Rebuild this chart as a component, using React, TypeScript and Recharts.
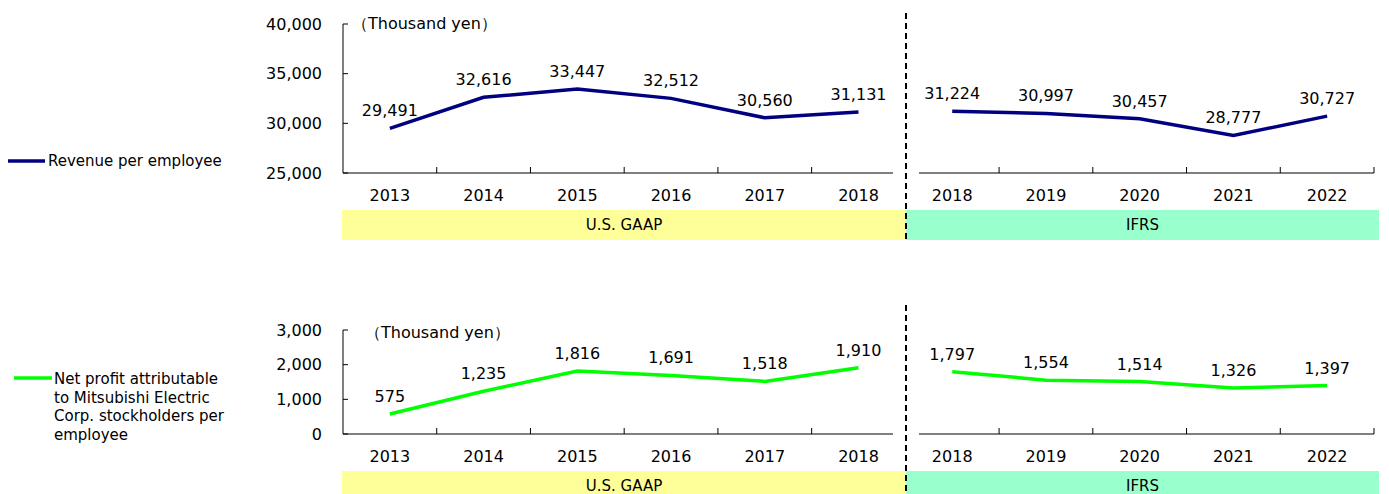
import React from "react";
import { LineChart, Line, XAxis, YAxis, LabelList } from "recharts";

const years = ["2013", "2014", "2015", "2016", "2017", "2018", "2018", "2019", "2020", "2021", "2022"];
const revenueGaap = [29491, 32616, 33447, 32512, 30560, 31131];
const revenueIfrs = [31224, 30997, 30457, 28777, 30727];
const profitGaap = [575, 1235, 1816, 1691, 1518, 1910];
const profitIfrs = [1797, 1554, 1514, 1326, 1397];
const revenueTicks = [25000, 30000, 35000, 40000];
const profitTicks = [0, 1000, 2000, 3000];
const boundaryTicks = [1, 2, 3, 4, 5, 7, 8, 9, 10, 11];
const centerTicks = years.map((_, i) => i + 0.5);

const NAVY = "#000080";
const GREEN = "#00ff00";
const FONT = "'DejaVu Sans', sans-serif";

function buildRows(gaap: number[], ifrs: number[]) {
  return years.map((_, i) => ({
    x: i + 0.5,
    gaap: i < gaap.length ? gaap[i] : null,
    ifrs: i >= gaap.length ? ifrs[i - gaap.length] : null,
  }));
}

const fmt = (v: any) => (v == null ? "" : Number(v).toLocaleString("en-US"));

function Panel({
  gaap,
  ifrs,
  ticks,
  color,
  height,
  top,
  plotH,
}: {
  gaap: number[];
  ifrs: number[];
  ticks: number[];
  color: string;
  height: number;
  top: number;
  plotH: number;
}) {
  const rows = buildRows(gaap, ifrs);
  const bottom = height - top - plotH - 41;
  return (
    <LineChart
      width={1389}
      height={height}
      data={rows}
      margin={{ top, right: 15, left: 263, bottom }}
    >
      <YAxis
        width={80}
        domain={[ticks[0], ticks[ticks.length - 1]]}
        ticks={ticks}
        interval={0}
        tickFormatter={fmt}
        axisLine={{ stroke: "#000" }}
        tickLine={{ stroke: "#000" }}
        tickSize={-5}
        tickMargin={26}
        tick={{ fill: "#000", fontSize: 16 }}
      />
      <XAxis
        xAxisId="b"
        dataKey="x"
        type="number"
        domain={[0, 11]}
        ticks={boundaryTicks}
        interval={0}
        height={1}
        tickFormatter={() => ""}
        axisLine={{ stroke: "#000", strokeDasharray: "550 26 2000" }}
        tickLine={{ stroke: "#000" }}
        tickSize={-6}
      />
      <XAxis
        xAxisId="l"
        dataKey="x"
        type="number"
        domain={[0, 11]}
        ticks={centerTicks}
        interval={0}
        height={40}
        tickFormatter={(v: number) => years[Math.floor(v)]}
        axisLine={false}
        tickLine={false}
        tickSize={0}
        tickMargin={16}
        tick={{ fill: "#000", fontSize: 16 }}
      />
      <Line
        xAxisId="b"
        dataKey="gaap"
        stroke={color}
        strokeWidth={3.5}
        dot={false}
        isAnimationActive={false}
      >
        <LabelList dataKey="gaap" position="top" offset={12} formatter={fmt} fill="#000" fontSize={16} />
      </Line>
      <Line
        xAxisId="b"
        dataKey="ifrs"
        stroke={color}
        strokeWidth={3.5}
        dot={false}
        isAnimationActive={false}
      >
        <LabelList dataKey="ifrs" position="top" offset={12} formatter={fmt} fill="#000" fontSize={16} />
      </Line>
    </LineChart>
  );
}

function Bands({ top, h }: { top: number; h: number }) {
  return (
    <>
      <div
        style={{
          position: "absolute", left: 342, top, width: 564, height: h, background: "#ffff99",
          display: "flex", alignItems: "center", justifyContent: "center", fontSize: 15,
        }}
      >
        U.S. GAAP
      </div>
      <div
        style={{
          position: "absolute", left: 906, top, width: 473, height: h, background: "#99ffcc",
          display: "flex", alignItems: "center", justifyContent: "center", fontSize: 15,
        }}
      >
        IFRS
      </div>
    </>
  );
}

export default function App() {
  return (
    <div
      style={{
        position: "absolute", left: 0, top: 0, width: 1389, height: 494, overflow: "hidden",
        fontFamily: FONT, color: "#000", background: "#fff",
      }}
    >
      <div style={{ position: "absolute", left: 0, top: 0 }}>
        <Panel gaap={revenueGaap} ifrs={revenueIfrs} ticks={revenueTicks} color={NAVY} height={250} top={24} plotH={149} />
      </div>
      <div style={{ position: "absolute", left: 0, top: 250 }}>
        <Panel gaap={profitGaap} ifrs={profitIfrs} ticks={profitTicks} color={GREEN} height={244} top={80} plotH={104} />
      </div>

      <Bands top={210} h={30} />
      <Bands top={471} h={30} />

      <svg style={{ position: "absolute", left: 0, top: 0 }} width={1389} height={494}>
        <line x1={906} y1={13} x2={906} y2={240} stroke="#000" strokeWidth={2} strokeDasharray="6 4" />
        <line x1={906} y1={305} x2={906} y2={494} stroke="#000" strokeWidth={2} strokeDasharray="6 4" />
        <line x1={8} y1={161} x2={45} y2={161} stroke={NAVY} strokeWidth={3.5} />
        <line x1={14} y1={378} x2={52} y2={378} stroke={GREEN} strokeWidth={3.5} />
      </svg>

      <div style={{ position: "absolute", left: 352, top: 14, fontSize: 16, lineHeight: "20px" }}>
        （Thousand yen）
      </div>
      <div style={{ position: "absolute", left: 365, top: 323, fontSize: 16, lineHeight: "20px" }}>
        （Thousand yen）
      </div>

      <div style={{ position: "absolute", left: 48, top: 152, fontSize: 15, lineHeight: "18px" }}>
        Revenue per employee
      </div>
      <div style={{ position: "absolute", left: 54, top: 370, fontSize: 15, lineHeight: "18.5px", width: 190 }}>
        Net profit attributable
        <br />
        to Mitsubishi Electric
        <br />
        Corp. stockholders per
        <br />
        employee
      </div>
    </div>
  );
}
